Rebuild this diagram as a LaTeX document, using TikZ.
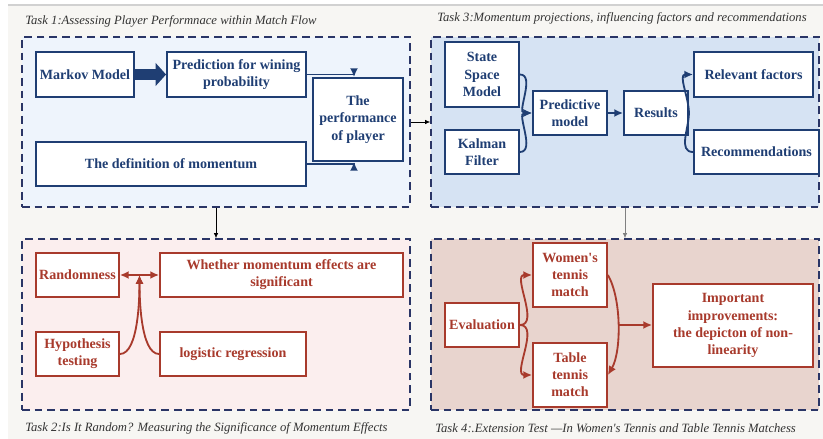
\documentclass[tikz,border=0pt]{standalone}
\usepackage{fontspec}
\setmainfont{Liberation Serif}
\usetikzlibrary{arrows.meta, positioning, calc}
\definecolor{navy}{HTML}{1F3E73}
\definecolor{brick}{HTML}{A83A2C}
\definecolor{dashline}{HTML}{2A3566}
\definecolor{paper}{HTML}{F7F6F3}
\definecolor{fillone}{HTML}{EEF4FC}
\definecolor{filltwo}{HTML}{FBEEEE}
\definecolor{fillthree}{HTML}{D6E3F3}
\definecolor{fillfour}{HTML}{E8D4CE}
\tikzset{
    panel/.style={rectangle, draw=dashline, line width=1pt, dash pattern=on 5.5pt off 3.5pt, minimum width=9.7cm},
    bluebox/.style={rectangle, draw=navy, fill=white, line width=1.3pt, text=navy, align=center, inner sep=1pt, font=\bfseries\fontsize{10}{12.2}\selectfont},
    redbox/.style={bluebox, draw=brick, text=brick},
    bluearrow/.style={-{Latex[length=2.2mm, width=2mm]}, navy, line width=1.3pt},
    redarrow/.style={-{Latex[length=2.2mm, width=2mm]}, brick, line width=1.3pt},
    link/.style={-{Latex[length=1.3mm, width=1.1mm]}, line width=0.5pt},
    tasktitle/.style={inner sep=0pt, text=black!80, font=\itshape\fontsize{9}{11}\selectfont},
}
\begin{document}
\begin{tikzpicture}[x=0.025cm, y=-0.025cm]
    \useasboundingbox (0,0) rectangle (823,439);
    \fill[paper] (8,5) rectangle (823,439);
    \draw[black!18, line width=0.8pt] (8,5) -- (823,5);

    \node[panel, fill=fillone, minimum height=4.25cm] (p1) at (216,122) {};
    \node[panel, fill=fillthree, minimum height=4.25cm] (p3) at (625,122) {};
    \node[panel, fill=filltwo, minimum height=4.275cm] (p2) at (216,324.5) {};
    \node[panel, fill=fillfour, minimum height=4.275cm] (p4) at (625,324.5) {};

    \node[tasktitle, anchor=west] (t1) at (25,21) {Task 1:Assessing Player Performnace within Match Flow};
    \node[tasktitle] (t3) at (622,18) {Task 3:Momentum projections, influencing factors and recommendations};
    \node[tasktitle, anchor=west] (t2) at (25,428) {Task 2:Is It Random? Measuring the Significance of Momentum Effects};
    \node[tasktitle, anchor=west] (t4) at (435,428) {Task 4:.Extension Test —In Women\textquotesingle s Tennis and Table Tennis Matchess};

    \draw[link] (p1.south) -- (p2.north);
    \draw[link] (p1.east) -- (p3.west);
    \draw[link, black!50] (p3.south) -- (p4.north);

    \node[bluebox, minimum width=2.45cm, minimum height=1.125cm] (markov) at (85,74.5) {Markov Model};
    \node[bluebox, minimum width=3.475cm, minimum height=1.125cm] (pred) at (236.5,74.5) {Prediction for wining\\probability};
    \node[bluebox, minimum width=2.25cm, minimum height=2.075cm] (perf) at (358,119.5) {The\\performance\\of player};
    \node[bluebox, minimum width=6.75cm, minimum height=1.1cm] (defn) at (171,164) {The definition of momentum};
    \draw[navy, line width=2.6mm, -{Triangle[length=2.6mm, width=5.6mm]}] (markov.east) -- (pred.west);
    \draw[bluearrow] (pred.east) -| ([xshift=-0.1cm]perf.north);
    \draw[bluearrow] (defn.east) -| ([xshift=-0.1cm]perf.south);

    \node[bluebox, minimum width=1.85cm, minimum height=1.625cm] (ssm) at (482,74.5) {State\\Space\\Model};
    \node[bluebox, minimum width=1.85cm, minimum height=1.1cm] (kalman) at (482,152) {Kalman\\Filter};
    \node[bluebox, minimum width=1.85cm, minimum height=1.1cm] (predm) at (570,113) {Predictive\\model};
    \node[bluebox, minimum width=1.6cm, minimum height=1.1cm] (results) at (656,113) {Results};
    \node[bluebox, minimum width=2.975cm, minimum height=1.125cm] (factors) at (753.5,74.5) {Relevant factors};
    \node[bluebox, minimum width=3.125cm, minimum height=1.1cm] (recs) at (756.5,152) {Recommendations};
    \draw[bluearrow] (ssm.east) to[out=0, in=180] (predm.west);
    \draw[bluearrow] (kalman.east) to[out=0, in=180] (predm.west);
    \draw[bluearrow] (predm) -- (results);
    \draw[bluearrow] (results.east) to[out=90, in=180] (factors.west);
    \draw[navy, line width=1.3pt] (results.east) to[out=-90, in=180] (recs.west);

    \node[redbox, minimum width=2.075cm, minimum height=1.1cm] (random) at (77.5,275) {Randomness};
    \node[redbox, minimum width=6.075cm, minimum height=1.1cm] (signif) at (281.5,275) {Whether momentum effects are\\significant};
    \node[redbox, minimum width=2.075cm, minimum height=1.1cm] (hypo) at (77.5,354) {Hypothesis\\testing};
    \node[redbox, minimum width=3.65cm, minimum height=1.1cm] (logit) at (233,354) {logistic regression};
    \coordinate (meet) at ($(random.east)!0.5!(signif.west)$);
    \draw[redarrow, {Latex[length=2.2mm, width=2mm]}-{Latex[length=2.2mm, width=2mm]}] (random.east) -- (signif.west);
    \draw[redarrow] (hypo.east) to[out=0, in=-90, looseness=0.6] (meet);
    \draw[redarrow] (logit.west) to[out=180, in=-90, looseness=0.6] (meet);

    \node[redbox, minimum width=1.85cm, minimum height=1.1cm] (evalu) at (482,325) {Evaluation};
    \node[redbox, minimum width=1.85cm, minimum height=1.6cm] (women) at (570,275) {Women\textquotesingle s\\tennis\\match};
    \node[redbox, minimum width=1.85cm, minimum height=1.6cm] (table) at (570,375) {Table\\tennis\\match};
    \node[redbox, minimum width=4cm, minimum height=2.075cm] (improve) at (733,325.5) {Important\\improvements:\\the depicton of non-\\linearity};
    \draw[redarrow] (evalu.east) to[out=0, in=180] (women.west);
    \draw[redarrow] (evalu.east) to[out=0, in=180] (table.west);
    \draw[redarrow] (women.east) to[out=-60, in=60, looseness=0.7] coordinate[pos=0.5] (bend) (table.east);
    \draw[redarrow] (bend) -- (bend -| improve.west);
\end{tikzpicture}
\end{document}
